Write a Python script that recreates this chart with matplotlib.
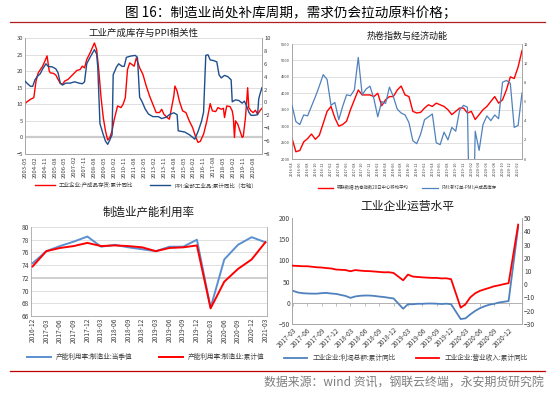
import matplotlib.pyplot as plt

plt.rcParams['font.family'] = ['Noto Sans CJK SC', 'DejaVu Sans']

# ---------------- 工业产成库存与PPI相关性 (monthly, from 2003-05)
inv_dates = ['2003-05', '2003-07', '2003-10', '2004-01', '2004-03', '2004-05', '2004-09', '2004-11',
             '2005-01', '2005-03', '2005-04', '2005-07', '2005-09', '2005-11', '2006-01', '2006-03',
             '2006-05', '2006-08', '2006-11', '2007-02', '2007-04', '2007-07', '2007-09', '2007-11',
             '2008-01', '2008-04', '2008-06', '2008-08', '2008-10', '2008-12', '2009-02', '2009-04',
             '2009-06', '2009-08', '2009-10', '2009-12', '2010-02', '2010-05', '2010-08', '2010-10',
             '2010-12', '2011-02', '2011-04', '2011-06', '2011-08', '2011-10', '2012-01', '2012-04',
             '2012-07', '2012-10', '2013-01', '2013-04', '2013-07', '2013-09', '2013-11', '2014-02',
             '2014-04', '2014-06', '2014-08', '2014-09', '2014-11', '2015-01', '2015-04', '2015-07',
             '2015-10', '2016-01', '2016-04', '2016-06', '2016-08', '2016-11', '2017-02', '2017-05',
             '2017-07', '2017-10', '2017-12', '2018-03', '2018-05', '2018-06', '2018-08', '2018-11',
             '2019-01', '2019-02', '2019-03', '2019-04', '2019-06', '2019-08', '2019-10', '2019-11',
             '2020-01', '2020-03', '2020-04', '2020-06', '2020-08', '2020-10', '2020-12', '2021-02',
             '2021-04']
inv_vals = [10.2, 10.8, 11.5, 12.0, 17.0, 19.5, 21.5, 23.0,
            24.6, 20.0, 19.5, 19.3, 18.8, 17.5, 16.3, 16.0,
            17.0, 17.5, 18.5, 19.5, 20.2, 20.5, 21.5, 21.0,
            23.5, 25.5, 27.0, 28.5, 26.5, 20.0, 12.0, 6.0,
            2.0, -0.8, 0.0, 2.0, 5.5, 9.5, 9.0, 10.0,
            12.0, 20.5, 22.5, 22.0, 21.5, 24.0, 21.0, 19.0,
            15.5, 12.5, 10.0, 7.5, 7.5, 8.5, 7.0, 6.0,
            5.5, 9.0, 12.5, 15.5, 14.0, 11.0, 8.0, 7.5,
            5.0, 3.0, 0.0, -1.5, -1.2, 1.0, 5.0, 10.2,
            8.0, 7.8, 9.0, 8.5, 8.8, 6.0, 9.5, 9.3,
            8.0, 6.0, 0.0, 5.0, 4.0, 2.0, 0.0, 0.3,
            6.0, 15.0, 9.0, 8.0, 7.5, 8.2, 7.0, 8.0,
            8.8]
ppi_dates = ['2003-05', '2003-08', '2003-10', '2003-12', '2004-02', '2004-04', '2004-07', '2004-09',
             '2004-12', '2005-02', '2005-06', '2005-09', '2005-11', '2006-01', '2006-03', '2006-06',
             '2006-10', '2007-02', '2007-06', '2007-09', '2007-11', '2008-01', '2008-04', '2008-07',
             '2008-08', '2008-10', '2008-11', '2009-01', '2009-04', '2009-06', '2009-08', '2009-10',
             '2009-12', '2010-01', '2010-04', '2010-06', '2010-09', '2010-11', '2011-01', '2011-05',
             '2011-09', '2011-11', '2012-01', '2012-03', '2012-06', '2012-09', '2013-01', '2013-06',
             '2013-09', '2014-01', '2014-04', '2014-08', '2014-11', '2014-12', '2015-06', '2015-10',
             '2016-01', '2016-03', '2016-06', '2016-09', '2016-11', '2017-01', '2017-03', '2017-05',
             '2017-08', '2017-11', '2018-01', '2018-03', '2018-06', '2018-09', '2018-12', '2019-01',
             '2019-04', '2019-07', '2019-10', '2019-12', '2020-02', '2020-04', '2020-06', '2020-09',
             '2020-12', '2021-01', '2021-02', '2021-04']
ppi_vals = [3.3, 2.8, 2.5, 2.5, 3.5, 4.0, 4.5, 5.2,
            6.0, 5.6, 5.5, 5.2, 4.6, 3.0, 2.7, 3.0,
            3.0, 3.2, 3.0, 2.9, 3.2, 6.0, 7.0, 7.9,
            8.2, 7.5, 5.5, -3.3, -5.0, -6.0, -6.5, -5.8,
            -5.0, 4.3, 5.5, 6.0, 5.6, 5.6, 7.0, 7.2,
            7.3, 7.0, 0.8, 0.2, -1.0, -1.8, -2.2, -2.2,
            -2.5, -2.3, -1.9, -1.6, -1.9, -4.4, -4.6, -5.0,
            -5.4, -5.7, -4.5, -3.0, -1.5, 7.3, 7.4, 6.6,
            6.5, 6.3, 4.3, 3.8, 4.2, 4.0, 3.5, 0.1,
            0.4, 0.3, -0.1, 0.2, -0.5, -1.5, -2.0, -2.0,
            -1.9, 0.5, 1.2, 2.3]
tl_ticks = ['2003-05', '2004-02', '2004-11', '2005-08', '2006-05', '2007-02', '2007-11', '2008-08',
            '2009-05', '2010-02', '2010-11', '2011-08', '2012-05', '2013-02', '2013-11', '2014-08',
            '2015-05', '2016-02', '2016-11', '2017-08', '2018-05', '2019-02', '2019-11', '2020-08']

# ---------------- 热卷指数与经济动能 (monthly, 2016-04 ~ 2021-03)
coil_vals = [2630, 2220, 2260, 2520, 2620, 2760, 2600, 2720, 3080, 3450,
             3600, 3250, 3000, 3050, 3150, 3500, 3800, 4100, 3950, 3950,
             3950, 3900, 4000, 3620, 3800, 3900, 3900, 4100, 4220, 3950,
             3900, 3450, 3400, 3420, 3550, 3650, 3600, 3700, 3650, 3600,
             3500, 3350, 3450, 3550, 3550, 3400, 3450, 3200, 3350, 3500,
             3600, 3750, 3900, 3700, 3800, 4100, 4500, 4450, 4800, 5300]
pmi_vals = [5.6, 3.9, 3.6, 4.6, 4.5, 5.5, 6.5, 7.6, 8.8, 8.3,
            5.6, 5.9, 4.1, 5.5, 6.7, 6.6, 7.2, 10.6, 6.7, 7.3,
            7.6, 6.3, 4.4, 6.0, 5.8, 7.5, 6.5, 5.2, 4.8, 4.6,
            3.8, 1.9, 1.6, 2.6, 4.1, 4.4, 4.7, 1.7, 1.5, 2.8,
            2.0, 3.3, 2.9, 5.1, 5.6, 5.4, -16.8, 2.9, 0.9, 3.6,
            4.5, 4.0, 4.6, 4.2, 8.0, 8.2, 7.9, 3.3, 3.5, 6.9]
tr_ticks = ['2016-04', '2016-06', '2016-08', '2016-10', '2016-12', '2017-02', '2017-04', '2017-06',
            '2017-08', '2017-10', '2017-12', '2018-02', '2018-04', '2018-06', '2018-08', '2018-10',
            '2018-12', '2019-02', '2019-04', '2019-06', '2019-08', '2019-10', '2019-12', '2020-02',
            '2020-04', '2020-06', '2020-08', '2020-10', '2020-12', '2021-02']

# ---------------- 制造业产能利用率 (quarterly)
cu_quarters = ['2016-12', '2017-03', '2017-06', '2017-09', '2017-12', '2018-03', '2018-06', '2018-09',
               '2018-12', '2019-03', '2019-06', '2019-09', '2019-12', '2020-03', '2020-06', '2020-09',
               '2020-12', '2021-03']
cu_current = [74.3, 76.2, 77.0, 77.7, 78.5, 76.9, 77.2, 76.8, 76.5, 76.2, 76.9, 76.9,
              78.0, 67.3, 74.9, 77.2, 78.4, 77.6]
cu_cumul = [73.8, 76.2, 76.7, 77.0, 77.5, 77.0, 77.1, 77.0, 76.8, 76.2, 76.7, 76.8,
            77.1, 67.2, 71.4, 73.4, 74.9, 77.6]

# ---------------- 工业企业运营水平 (monthly, no January)
ie_dates = ['2017-03', '2017-04', '2017-05', '2017-06', '2017-07', '2017-08', '2017-09', '2017-10',
            '2017-11', '2017-12', '2018-02', '2018-03', '2018-04', '2018-05', '2018-06', '2018-07',
            '2018-08', '2018-09', '2018-10', '2018-11', '2018-12', '2019-02', '2019-03', '2019-04',
            '2019-05', '2019-06', '2019-07', '2019-08', '2019-09', '2019-10', '2019-11', '2019-12',
            '2020-02', '2020-03', '2020-04', '2020-05', '2020-06', '2020-07', '2020-08', '2020-09',
            '2020-10', '2020-11', '2020-12', '2021-02']
profit_vals = [28.3, 24.4, 22.7, 22.0, 21.6, 21.6, 22.8, 23.3, 21.9, 21.0, 16.1, 11.6,
               15.0, 16.5, 17.2, 17.1, 16.2, 14.7, 13.6, 11.8, 10.3, -14.0, -3.3, -3.4,
               -2.3, -2.4, -1.7, -1.7, -2.1, -2.9, -2.1, -3.3, -38.3, -36.7, -27.4, -19.3,
               -12.8, -8.1, -4.4, -2.4, 0.7, 2.4, 4.1, 178.9]
revenue_vals = [14.0, 13.8, 13.6, 13.6, 13.2, 12.8, 12.6, 12.2, 11.9, 11.1, 10.7, 9.8,
                10.7, 10.3, 10.0, 9.9, 9.6, 9.3, 9.0, 9.1, 8.5, 3.0, 7.3, 5.8,
                5.5, 5.2, 5.0, 4.8, 4.8, 4.4, 4.5, 3.8, -17.7, -15.1, -9.9, -6.9,
                -5.0, -3.8, -2.7, -1.5, -0.8, 0.1, 0.8, 45.0]
br_ticks = ['2017-03', '2017-06', '2017-09', '2017-12', '2018-03', '2018-06', '2018-09', '2018-12',
            '2019-03', '2019-06', '2019-09', '2019-12', '2020-03', '2020-06', '2020-09', '2020-12']


def month_idx(s, base):
    y, m = map(int, s.split('-'))
    by, bm = map(int, base.split('-'))
    return (y - by) * 12 + (m - bm)


RED = '#FF0000'
GRID = '#D9D9D9'
SPINE = '#A6A6A6'
TXT = '#404040'
W, H = 552, 394


def box(l, t, r, b):
    return [l / W, 1 - b / H, (r - l) / W, (b - t) / H]


def style(ax, fs):
    for s in ax.spines.values():
        s.set_color(SPINE)
        s.set_linewidth(0.6)
    ax.spines['top'].set_visible(False)
    ax.tick_params(labelsize=fs, colors=TXT, length=0, pad=1.5)


fig = plt.figure(figsize=(5.52, 3.94), dpi=100)

fig.text(291 / W, 1 - 13 / H, '图 16：制造业尚处补库周期，需求仍会拉动原料价格；', ha='center', va='center',
         fontsize=9.8, color='#000000')
fig.add_artist(plt.Line2D([10 / W, 545 / W], [1 - 22 / H, 1 - 22 / H], color='#B01E23', lw=0.9))
fig.add_artist(plt.Line2D([10 / W, 545 / W], [1 - 371 / H, 1 - 371 / H], color='#C00000', lw=0.9))
fig.text(544 / W, 1 - 382 / H, '数据来源：wind 资讯，钢联云终端，永安期货研究院', ha='right', va='center',
         fontsize=8.6, color='#7F7F7F')

# ---- top-left
ax = fig.add_axes(box(25, 38, 262, 154))
base = '2003-05'
x1 = [month_idx(d, base) for d in inv_dates]
x2 = [month_idx(d, base) for d in ppi_dates]
ax.set_ylim(-5, 30)
ax.set_yticks(range(-5, 31, 5))
ax.yaxis.grid(True, color=GRID, lw=0.6)
ax.axhline(0, color='#CCCCCC', lw=1.6, zorder=1)
ax.set_axisbelow(True)
ax.plot(x1, inv_vals, color=RED, lw=1.0, zorder=4, label='工业企业:产成品存货:累计同比')
ax.set_xlim(0, 215)
ax.set_xticks([month_idx(t, base) for t in tl_ticks])
ax.set_xticklabels(tl_ticks, rotation=90)
style(ax, 4.2)
ax2 = ax.twinx()
ax2.plot(x2, ppi_vals, color='#1F4E8C', lw=1.0, zorder=3, label='PPI:全部工业品:累计同比（右轴）')
ax2.set_ylim(-8, 10)
ax2.set_yticks(range(-8, 11, 2))
style(ax2, 4.2)
ax.set_title('工业产成库存与PPI相关性', fontsize=6.8, pad=1.5, color='#1a1a1a')
h1, l1 = ax.get_legend_handles_labels()
h2, l2 = ax2.get_legend_handles_labels()
fig.legend(h1 + h2, l1 + l2, loc='center', bbox_to_anchor=(146 / W, 1 - 185 / H), ncol=2, frameon=False,
           fontsize=4, handlelength=3.5, columnspacing=3, labelcolor=TXT)

# ---- top-right
ax = fig.add_axes(box(292, 44, 522, 159))
xm = list(range(len(coil_vals)))
ax.set_ylim(2000, 5500)
ax.set_yticks(range(2000, 5501, 500))
ax.yaxis.grid(True, color=GRID, lw=0.6)
ax.set_axisbelow(True)
ax.plot(xm, coil_vals, color=RED, lw=1.0, zorder=4, label='钢联数据:热卷指数20日中心移动平均')
ax.set_xlim(0, 59)
ax.set_xticks([month_idx(t, '2016-04') for t in tr_ticks])
ax.set_xticklabels(tr_ticks, rotation=90)
style(ax, 2.8)
ax2 = ax.twinx()
ax2.plot(list(range(len(pmi_vals))), pmi_vals, color='#4F81BD', lw=0.9, zorder=3,
         label='PMI:新订单-PMI:产成品库存')
ax2.set_ylim(0, 12)
ax2.set_yticks(range(0, 13, 2))
style(ax2, 2.8)
ax.set_title('热卷指数与经济动能', fontsize=6.5, pad=4, color='#1a1a1a')
h1, l1 = ax.get_legend_handles_labels()
h2, l2 = ax2.get_legend_handles_labels()
fig.legend(h1 + h2, l1 + l2, loc='center', bbox_to_anchor=(407 / W, 1 - 188 / H), ncol=2, frameon=False,
           fontsize=3.2, handlelength=3.5, columnspacing=3, labelcolor=TXT)

# ---- bottom-left
ax = fig.add_axes(box(31, 227, 267, 316))
xq = list(range(len(cu_quarters)))
ax.plot(xq, cu_current, color='#5B8FD0', lw=1.4, zorder=3, label='产能利用率:制造业:当季值')
ax.plot(xq, cu_cumul, color=RED, lw=1.4, zorder=4, label='产能利用率:制造业:累计值')
ax.set_ylim(66, 80)
ax.set_yticks(range(66, 81, 2))
ax.yaxis.grid(True, color=GRID, lw=0.6)
ax.axhline(72, color='#D0D0D0', lw=1.4, zorder=1)
ax.set_axisbelow(True)
ax.set_xlim(-0.12, 17.12)
ax.set_xticks(xq)
ax.set_xticklabels(cu_quarters, rotation=90)
style(ax, 4.8)
ax.spines['right'].set_visible(True)
ax.set_title('制造业产能利用率', fontsize=8.3, pad=8, color='#1a1a1a')
ax.legend(loc='center', bbox_to_anchor=(146 / W, 1 - 357 / H), bbox_transform=fig.transFigure, ncol=2,
          frameon=False, fontsize=4.8, handlelength=3.5, columnspacing=4, labelcolor=TXT)

# ---- bottom-right
ax = fig.add_axes(box(292, 218, 522, 324))
xb = [month_idx(d, '2017-03') for d in ie_dates]
ax.plot(xb, profit_vals, color='#4F81BD', lw=1.3, zorder=3, label='工业企业:利润总额:累计同比')
ax.set_ylim(-50, 200)
ax.set_yticks(range(-50, 201, 50))
ax.set_xlim(-0.2, 47.8)
brx = [month_idx(t, '2017-03') for t in br_ticks]
ax.set_xticks(brx)
ax.set_xticklabels(br_ticks, rotation=45, ha='right', rotation_mode='anchor')
style(ax, 4.8)
ax.axhline(0, color=SPINE, lw=0.6, zorder=1)
zx = ax.secondary_xaxis(0.2)
zx.set_xticks(brx)
zx.set_xticklabels([])
zx.tick_params(length=2, width=0.5, color=SPINE, direction='out')
zx.spines['bottom'].set_visible(False)
ax2 = ax.twinx()
ax2.plot(xb, revenue_vals, color=RED, lw=1.3, zorder=4, label='工业企业:营业收入:累计同比')
ax2.set_ylim(-30, 50)
ax2.set_yticks(range(-30, 51, 10))
style(ax2, 4.8)
ax.set_title('工业企业运营水平', fontsize=8.5, pad=6, color='#1a1a1a')
h1, l1 = ax.get_legend_handles_labels()
h2, l2 = ax2.get_legend_handles_labels()
fig.legend(h1 + h2, l1 + l2, loc='center', bbox_to_anchor=(406 / W, 1 - 358 / H), ncol=2, frameon=False,
           fontsize=4.8, handlelength=3.5, columnspacing=3, labelcolor=TXT)

fig.savefig('out.png', dpi=100)
